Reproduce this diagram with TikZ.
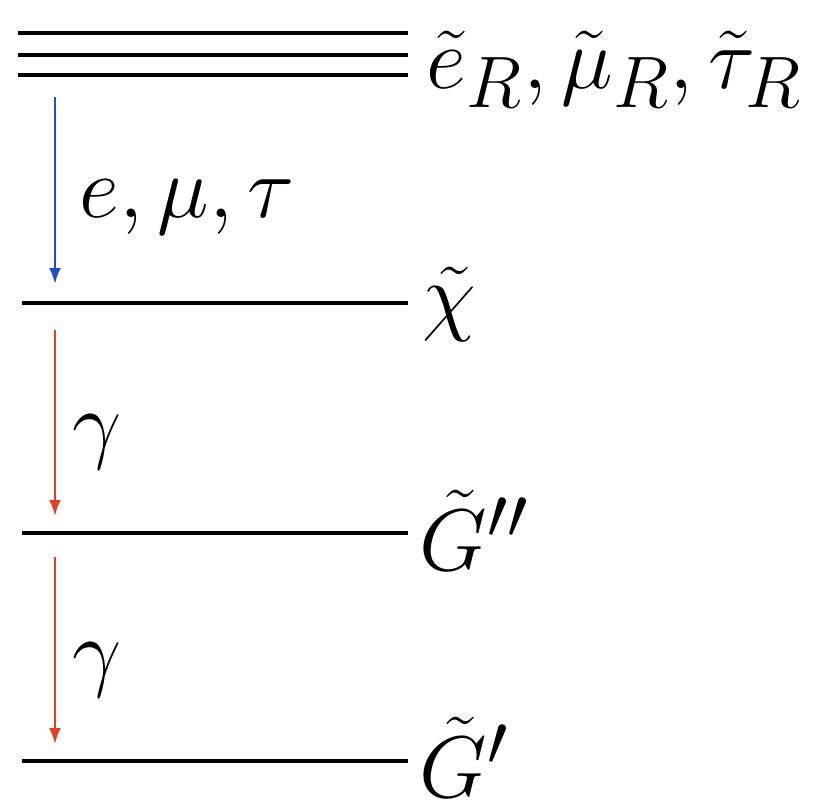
\documentclass[tikz,border=0pt]{standalone}
\usetikzlibrary{arrows.meta}
\definecolor{lepton}{HTML}{1F4FC4}
\definecolor{photon}{HTML}{E2401F}
\tikzset{
  lvl/.style={draw=black, line width=1pt},
  tr/.style={line width=0.7pt, -{Latex[length=0.16cm,width=0.12cm]}},
  lab/.style={anchor=base west, inner sep=0pt, font=\fontsize{29}{33}\selectfont},
}

\begin{document}
\begin{tikzpicture}[x=0.01cm, y=-0.01cm]
  \useasboundingbox (0,0) rectangle (827,799);
  % mass levels
  \foreach \n/\xa/\y in {s1/18/33, s2/18/55, s3/18/75, x/22/303, g2/22/533, g1/22/761} {
    \coordinate (\n l) at (\xa,\y);
    \coordinate (\n r) at (408,\y);
    \draw[lvl] (\n l) -- (\n r);
  }
  \node[lab] (slep) at (426,88) {$\tilde e_R, \tilde\mu_R, \tilde\tau_R$};
  \node[lab] (neut) at (422,324) {$\tilde\chi$};
  \node[lab] (gtwo) at (419,570) {$\tilde G''$};
  \node[lab] (gone) at (419,797) {$\tilde G'$};

  % decays
  \coordinate (d1) at (55,97);  \coordinate (d1e) at (55,284);
  \coordinate (d2) at (55,330); \coordinate (d2e) at (55,516);
  \coordinate (d3) at (55,557); \coordinate (d3e) at (55,744);
  \draw[tr, lepton] (d1) -- (d1e);
  \draw[tr, photon] (d2) -- (d2e);
  \draw[tr, photon] (d3) -- (d3e);
  \node[lab] (lep) at (79,217) {$e, \mu, \tau$};
  \node[lab] (ga) at (72,452) {$\gamma$};
  \node[lab] (gb) at (72,680) {$\gamma$};
\end{tikzpicture}
\end{document}
